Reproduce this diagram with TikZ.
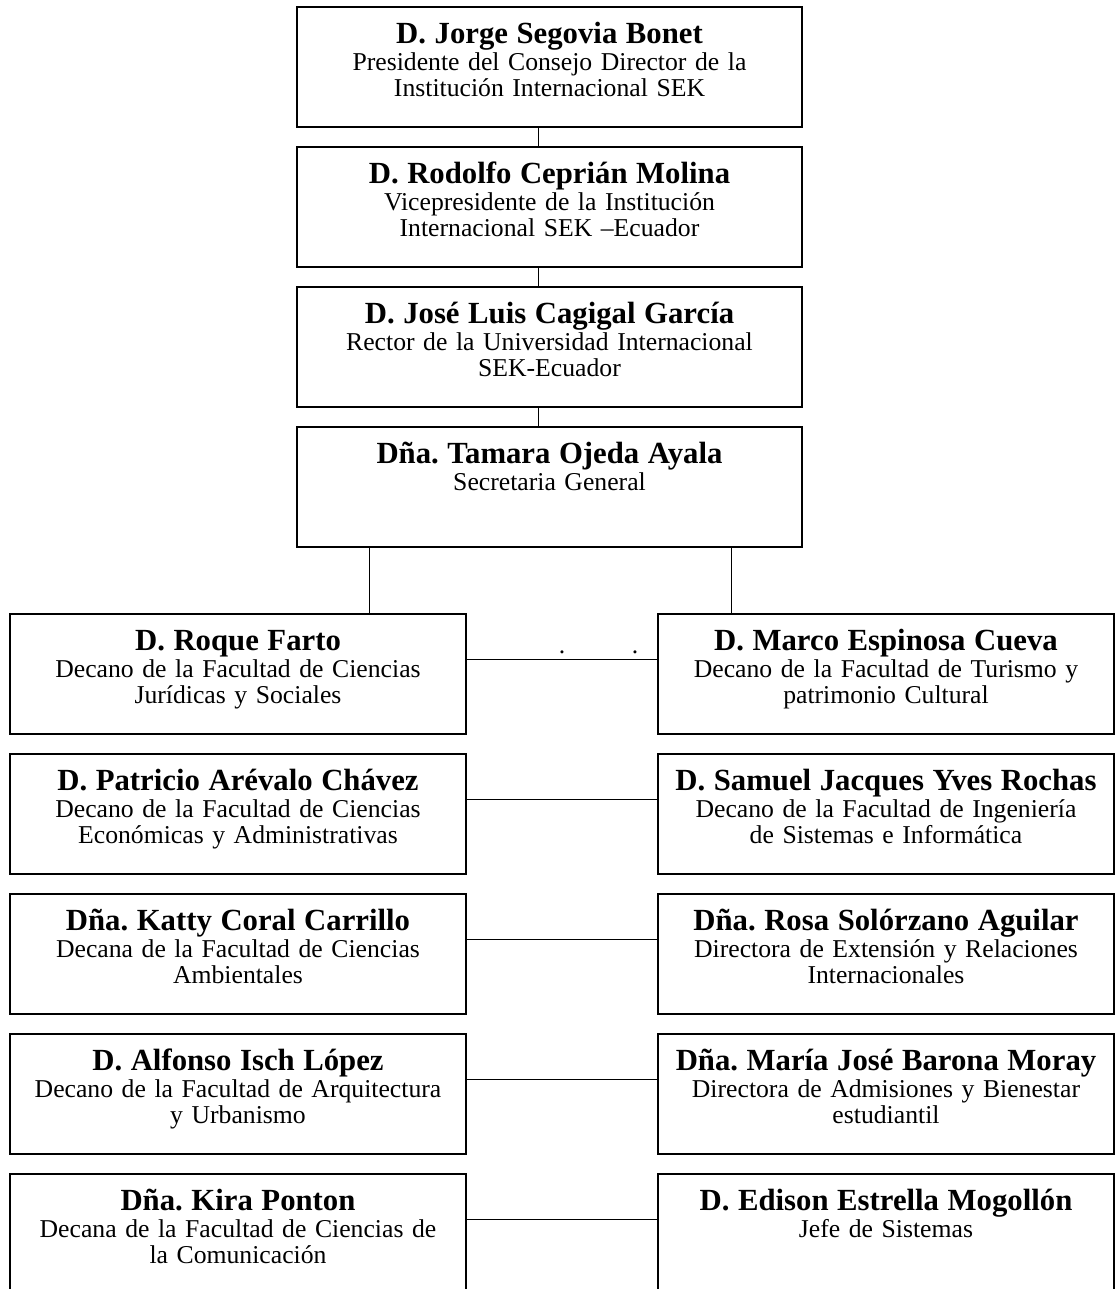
\documentclass[tikz,border=0pt]{standalone}
\usepackage{fontspec}
\setmainfont{Liberation Serif}
\usetikzlibrary{calc}
\frenchspacing

\newcommand{\nm}[1]{{\fontsize{14}{12}\selectfont\bfseries #1}}

\begin{document}
\begin{tikzpicture}[x=0.016cm,y=-0.016cm,
  font=\fontsize{11.7}{12}\selectfont,
  bx/.style={draw,line width=0.7pt,anchor=north,inner sep=0pt,align=center,
    text height=0.592cm,text depth=1.328cm},
  topbx/.style={bx,text width=8.08cm},
  sidebx/.style={bx,text width=7.296cm},
  cn/.style={line width=0.45pt}]

\useasboundingbox (0,0) rectangle (1117,1289);

% central column
\node[topbx] (jorge) at (549.5,6)
  {\nm{D. Jorge Segovia Bonet}\\ Presidente del Consejo Director de la\\ Institución Internacional SEK};
\node[topbx] (rodolfo) at (549.5,146)
  {\nm{D. Rodolfo Ceprián Molina}\\ Vicepresidente de la Institución\\ Internacional SEK –Ecuador};
\node[topbx] (jose) at (549.5,286)
  {\nm{D. José Luis Cagigal García}\\ Rector de la Universidad Internacional\\ SEK-Ecuador};
\node[topbx] (tamara) at (549.5,426)
  {\nm{Dña. Tamara Ojeda Ayala}\\ Secretaria General};

\draw[cn] ($(jorge.south)+(-11.5,0)$) -- ($(rodolfo.north)+(-11.5,0)$);
\draw[cn] ($(rodolfo.south)+(-11.5,0)$) -- ($(jose.north)+(-11.5,0)$);
\draw[cn] ($(jose.south)+(-11.5,0)$) -- ($(tamara.north)+(-11.5,0)$);

% left column
\node[sidebx] (roque) at (238,613)
  {\nm{D. Roque Farto}\\ Decano de la Facultad de Ciencias\\ Jurídicas y Sociales};
\node[sidebx] (patricio) at (238,753)
  {\nm{D. Patricio Arévalo Chávez}\\ Decano de la Facultad de Ciencias\\ Económicas y Administrativas};
\node[sidebx] (katty) at (238,893)
  {\nm{Dña. Katty Coral Carrillo}\\ Decana de la Facultad de Ciencias\\ Ambientales};
\node[sidebx] (alfonso) at (238,1033)
  {\nm{D. Alfonso Isch López}\\ Decano de la Facultad de Arquitectura\\ y Urbanismo};
\node[sidebx] (kira) at (238,1173)
  {\nm{Dña. Kira Ponton}\\ Decana de la Facultad de Ciencias de\\ la Comunicación};

% right column
\node[sidebx] (marco) at (886,613)
  {\nm{D. Marco Espinosa Cueva}\\ Decano de la Facultad de Turismo y\\ patrimonio Cultural};
\node[sidebx] (samuel) at (886,753)
  {\nm{D. Samuel Jacques Yves Rochas}\\ Decano de la Facultad de Ingeniería\\ de Sistemas e Informática};
\node[sidebx] (rosa) at (886,893)
  {\nm{Dña. Rosa Solórzano Aguilar}\\ Directora de Extensión y Relaciones\\ Internacionales};
\node[sidebx] (maria) at (886,1033)
  {\nm{Dña. María José Barona Moray}\\ Directora de Admisiones y Bienestar\\ estudiantil};
\node[sidebx] (edison) at (886,1173)
  {\nm{D. Edison Estrella Mogollón}\\ Jefe de Sistemas};

% from secretaria down
\coordinate (tamL) at ($(tamara.south west)+(73,0)$);
\coordinate (tamR) at ($(tamara.south east)+(-71,0)$);
\draw[cn] (tamL) -- (tamL |- roque.north);
\draw[cn] (tamR) -- (tamR |- marco.north);

% rows
\draw[cn] ($(roque.north east)+(0,46)$) -- ($(marco.north west)+(0,46)$);
\draw[cn] ($(patricio.north east)+(0,46)$) -- ($(samuel.north west)+(0,46)$);
\draw[cn] ($(katty.north east)+(0,46)$) -- ($(rosa.north west)+(0,46)$);
\draw[cn] ($(alfonso.north east)+(0,46)$) -- ($(maria.north west)+(0,46)$);
\draw[cn] ($(kira.north east)+(0,46)$) -- ($(edison.north west)+(0,46)$);

\node[anchor=base,inner sep=0pt] (dotA) at (562,653) {.};
\node[anchor=base,inner sep=0pt] (dotB) at (635,653) {.};
\end{tikzpicture}
\end{document}
